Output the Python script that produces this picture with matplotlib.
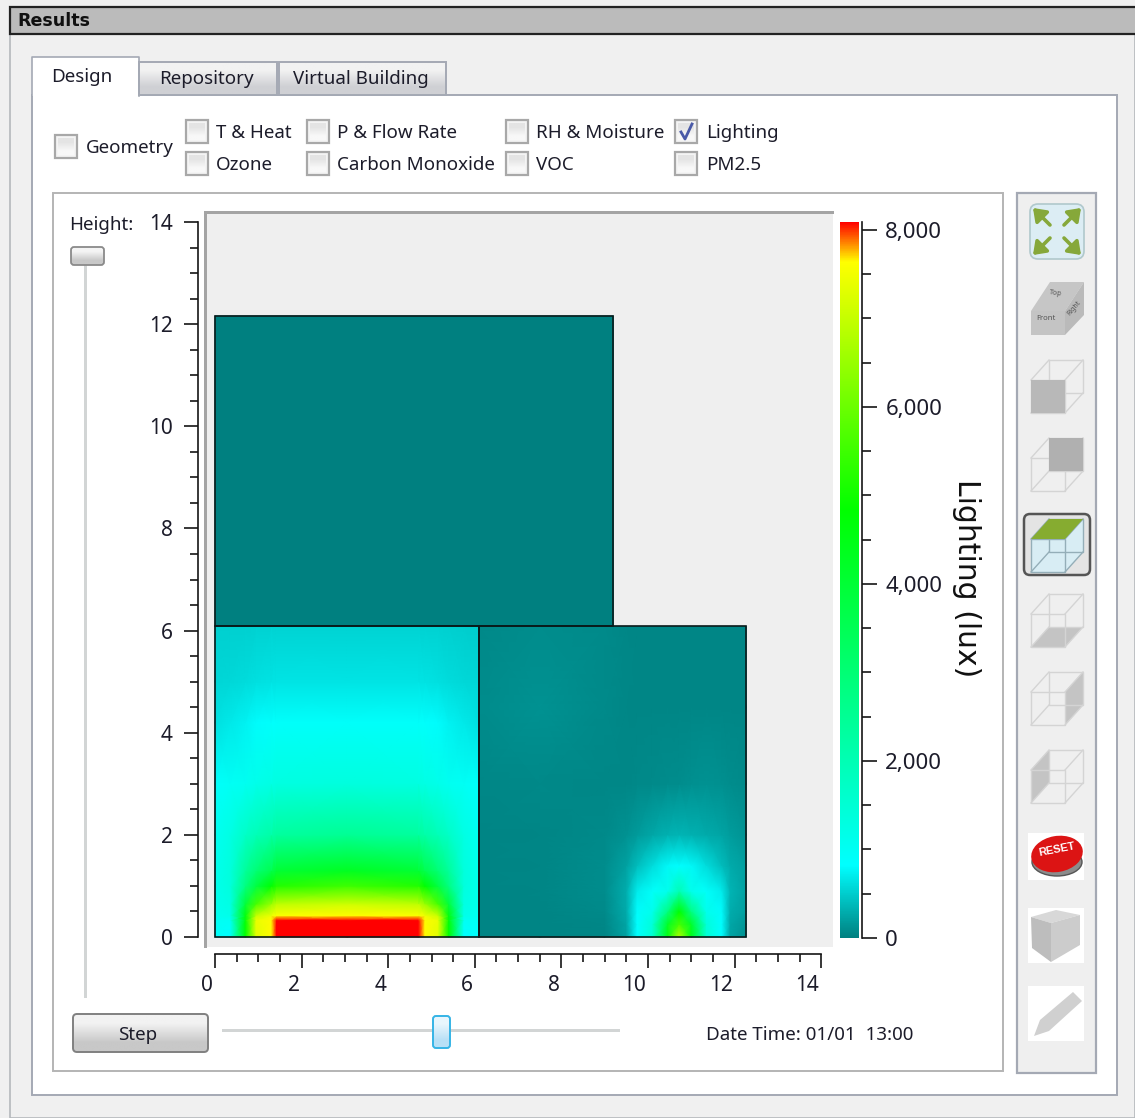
import numpy as np
import matplotlib
matplotlib.use("Agg")
import matplotlib.pyplot as plt
from matplotlib.colors import LinearSegmentedColormap, Normalize, to_rgb
from matplotlib.patches import Rectangle, FancyBboxPatch, Polygon, Ellipse
from matplotlib.ticker import FixedLocator, FixedFormatter, MultipleLocator
from matplotlib.transforms import ScaledTranslation

W, H = 1135, 1118
plt.rcParams['font.family'] = ['Noto Sans', 'DejaVu Sans']

# ---------- data (lux) ----------
VMAX = 8090
room_a_x = [0, .35, .7, .95, 1.3, 1.42, 3.05, 4.7, 4.85, 5.15, 5.4, 5.75, 6.09]
room_a_y = [0, .33, .42, .65, 1.0, 1.3, 2, 3, 4.2, 5, 6.08]
room_a_lux = [
    [900, 820, 4830, 7300, 7640, 8090, 8090, 8090, 7640, 7300, 4830, 820, 850],
    [1000, 1000, 4700, 7400, 7640, 8090, 8090, 8090, 7640, 7400, 4700, 1000, 1000],
    [1050, 1150, 4600, 7000, 7450, 7600, 7640, 7600, 7450, 7000, 4600, 1150, 1050],
    [1100, 1250, 3900, 5600, 6500, 6900, 7080, 6900, 6500, 5600, 3900, 1250, 1100],
    [1100, 1350, 2800, 3800, 4800, 5200, 5500, 5200, 4800, 3800, 2800, 1350, 1100],
    [1100, 1350, 2400, 3000, 3600, 4000, 4300, 4000, 3600, 3000, 2400, 1350, 1100],
    [1050, 1250, 1700, 1950, 2200, 2350, 2500, 2350, 2200, 1950, 1700, 1250, 1050],
    [880, 980, 1050, 1150, 1250, 1300, 1350, 1300, 1250, 1150, 1050, 980, 880],
    [620, 680, 740, 800, 860, 880, 900, 880, 860, 800, 740, 680, 620],
    [560, 570, 600, 620, 640, 650, 650, 650, 640, 620, 600, 570, 560],
    [520, 520, 520, 530, 540, 540, 540, 540, 530, 530, 520, 510, 500],
]
room_b_x = [6.09, 7.5, 9.0, 9.5, 9.75, 10.1, 10.45, 10.72, 11.0, 11.35, 11.7, 11.9, 12.27]
room_b_y = [0, .25, .5, .9, 1.4, 2, 3, 4.5, 6.08]
room_b_lux = [
    [35, 35, 40, 220, 820, 1500, 4500, 6800, 4500, 1500, 820, 230, 110],
    [35, 35, 50, 240, 820, 1400, 4200, 5600, 4200, 1400, 820, 260, 150],
    [35, 35, 70, 280, 800, 1100, 2800, 4830, 2800, 1100, 800, 300, 200],
    [35, 40, 90, 300, 700, 900, 1100, 2000, 1100, 900, 700, 340, 220],
    [35, 40, 90, 220, 400, 600, 780, 820, 780, 600, 400, 280, 200],
    [35, 40, 70, 120, 180, 260, 320, 340, 320, 280, 240, 190, 130],
    [50, 60, 50, 50, 60, 70, 80, 90, 110, 120, 110, 90, 70],
    [85, 120, 70, 55, 45, 40, 40, 40, 40, 40, 40, 40, 40],
    [60, 90, 70, 55, 45, 40, 40, 40, 40, 40, 40, 40, 40],
]
room_c_x = [0, 9.2]
room_c_y = [6.08, 12.16]
room_c_lux = [[0, 0], [0, 0]]

x_major = [0, 2, 4, 6, 8, 10, 12, 14]
y_major = [0, 2, 4, 6, 8, 10, 12, 14]
cbar_major = [0, 2000, 4000, 6000, 8000]
cbar_labels = ['0', '2,000', '4,000', '6,000', '8,000']
cmap_stops = [(0, '#008080'), (820, '#00ffff'), (4830, '#00ff00'), (7640, '#ffff00'), (8090, '#ff0000')]

checks = [
    (55, 135, 'Geometry', 86, 147, False), (186, 120, 'T & Heat', 216, 132, False),
    (186, 152, 'Ozone', 216, 164, False), (307, 120, 'P & Flow Rate', 337, 132, False),
    (307, 152, 'Carbon Monoxide', 337, 164, False), (506, 120, 'RH & Moisture', 536, 132, False),
    (506, 152, 'VOC', 536, 164, False), (675, 120, 'Lighting', 706, 132, True),
    (675, 152, 'PM2.5', 706, 164, False),
]

TXT = '#1c1c2a'
UI = 13.5

fig = plt.figure(figsize=(W / 100, H / 100), dpi=100, facecolor='#f0f0f0')

# ---------- window chrome in pixel coordinates ----------
bg = fig.add_axes([0, 0, 1, 1], zorder=0)
bg.set_xlim(0, W)
bg.set_ylim(H, 0)
bg.axis('off')
bg.set_autoscale_on(False)


def rect(x0, y0, x1, y1, fc='none', ec='none', lw=1.0, z=2):
    p = Rectangle((x0, y0), x1 - x0, y1 - y0, fc=fc, ec=ec, lw=lw, zorder=z)
    bg.add_patch(p)
    return p


def rrect(x0, y0, x1, y1, r, fc='none', ec='none', lw=1.0, z=2):
    p = FancyBboxPatch((x0, y0), x1 - x0, y1 - y0, boxstyle=f'round,pad=0,rounding_size={r}',
                       fc=fc, ec=ec, lw=lw, zorder=z)
    bg.add_patch(p)
    return p


def grad(x0, y0, x1, y1, c0, c1, clip=None, z=2):
    arr = np.array([[to_rgb(c0)], [to_rgb(c1)]])
    im = bg.imshow(arr, extent=(x0, x1, y1, y0), aspect='auto', interpolation='bilinear', zorder=z)
    if clip is not None:
        im.set_clip_path(clip)
    return im


def poly(pts, fc='none', ec='none', lw=1.0, z=3):
    p = Polygon(pts, closed=True, fc=fc, ec=ec, lw=lw, zorder=z)
    bg.add_patch(p)
    return p


def label(x, y, s, ha='left', size=UI, **kw):
    bg.text(x, y + 1, s, ha=ha, va='center', fontsize=size, color=kw.pop('color', TXT), zorder=6, **kw)


# title bar
rect(10, 34, 1135, 1118, fc='#f0f0f0', ec='#b4b8bc', lw=1.2, z=1)
rect(10, 7, 1137, 34, fc='#bbbbbb', ec='#222222', lw=1.6, z=2)
label(17, 20, 'Results', size=12.6, fontweight='bold', color='#101010', family='DejaVu Sans')

# tab pane and tabs
rect(32, 95, 1117, 1095, fc='white', ec='#a4a9b4', lw=1.4, z=2)
for x0, x1, s in [(139, 277, 'Repository'), (279, 446, 'Virtual Building')]:
    rect(x0, 62, x1, 95, fc='none', ec='#a4a9b4', lw=1.4, z=4)
    grad(x0, 62, x1, 95, '#f2f2f2', '#cfd0d4', z=3)
    label((x0 + x1) / 2 - 2, 78, s, ha='center')
rect(32, 57, 139, 96, fc='white', ec='none', z=3)
bg.plot([32, 32, 139, 139], [96, 57, 57, 96], color='#a4a9b4', lw=1.2, zorder=4)
label(82, 76, 'Design', ha='center')

# check boxes
for bx, by, s, tx, ty, on in checks:
    rect(bx, by, bx + 22, by + 23, fc='#f4f4f4', ec='#a8a8a8', lw=1.6, z=3)
    grad(bx + 3, by + 3, bx + 19, by + 20, '#e4e4e4', '#f8f8f8', z=4)
    label(tx, ty, s)
    if on:
        bg.plot([bx + 6, bx + 10, bx + 17], [by + 12, by + 19, by + 4], color='#4a5aa8', lw=2, zorder=5)

# plot panel and tool panel
rect(53, 193, 1003, 1071, fc='white', ec='#b4b4b4', lw=1.4, z=2)
rect(1017, 193, 1096, 1073, fc='#efefef', ec='#a4a9b4', lw=1.6, z=2)
label(69, 224, 'Height:')

# height slider
rect(84, 262, 87, 998, fc='#d2d5d5', z=3)
c = rrect(71, 247, 104, 265, 3, fc='none', ec='#8a8a8a', lw=1.3, z=5)
grad(71, 247, 104, 265, '#f4f4f4', '#c8c8c8', clip=c, z=4)

# step button
c = rrect(73, 1014, 208, 1052, 4, fc='none', ec='#808080', lw=1.4, z=5)
grad(73, 1014, 208, 1052, '#f2f2f2', '#c8c8c8', clip=c, z=4)
label(138, 1034, 'Step', ha='center')

# time slider
rect(222, 1029, 620, 1032, fc='#d2d5d5', z=3)
c = rrect(433, 1016, 450, 1048, 3, fc='none', ec='#35b4e6', lw=1.4, z=5)
grad(433, 1016, 450, 1048, '#e8f6fd', '#b8e0f6', clip=c, z=4)
label(706, 1034, 'Date Time: 01/01  13:00')

# darker edge of the plot area
rect(204, 211, 834, 214, fc='#a4a4a4', z=3)
rect(204, 211, 207, 948, fc='#a4a4a4', z=3)

# ---------- tool bar icons ----------
c = rrect(1030, 204, 1084, 259, 8, fc='#dcedf4', ec='#b0c8cc', lw=1.2, z=3)
for tip, tail in [((1033, 208), (1050, 225)), ((1081, 208), (1064, 225)),
                  ((1033, 255), (1050, 238)), ((1081, 255), (1064, 238))]:
    bg.annotate('', xy=tip, xytext=tail, zorder=5,
                arrowprops=dict(arrowstyle='-|>,head_width=0.4,head_length=0.55', color='#86a83a', lw=2.6,
                                mutation_scale=13, shrinkA=0, shrinkB=0))


def cube(top, face=None, fc='#b8b8b8'):
    fx0, fx1, d, s = 1031, 1065, 18, 33
    t = top + 20
    b = t + s
    front = [(fx0, t), (fx1, t), (fx1, b), (fx0, b)]
    back = [(fx0 + d, top), (fx1 + d, top), (fx1 + d, top + s), (fx0 + d, top + s)]
    edge = '#d4d4d4'
    if face == 'front':
        poly(front, fc=fc, z=4.5)
    if face == 'back':
        poly(back, fc=fc, z=4.5)
    if face == 'top':
        poly([front[0], front[1], back[1], back[0]], fc='#86ac30', z=5)
        poly(front, fc='#d8edf4', z=3)
        poly([front[1], back[1], back[2], front[2]], fc='#d8edf4', z=3)
        edge = '#94aeb8'
    if face == 'bottom':
        poly([front[3], front[2], back[2], back[3]], fc=fc, z=3)
    if face == 'right':
        poly([front[1], back[1], back[2], front[2]], fc=fc, z=3)
    if face == 'left':
        poly([front[0], back[0], back[3], front[3]], fc=fc, z=3)
    poly(front, ec=edge, lw=1, z=4)
    poly(back, ec=edge, lw=1, z=4)
    for a, b2 in zip(front, back):
        bg.plot([a[0], b2[0]], [a[1], b2[1]], color=edge, lw=1, zorder=4)


# labelled cube
poly([(1031, 311), (1065, 311), (1084, 282), (1050, 282)], fc='#c6c6c6', z=3)
poly([(1065, 311), (1084, 282), (1084, 315), (1065, 335)], fc='#bababa', z=3)
c = poly([(1031, 311), (1065, 311), (1065, 335), (1031, 335)], fc='#c4c4c4', z=3)
bg.text(1046, 319, 'Front', fontsize=5.5, ha='center', va='center', color='#555555', zorder=5)
bg.text(1056, 293, 'Top', fontsize=5.2, ha='center', va='center', color='#555555', zorder=5, rotation=-8)
bg.text(1074, 308, 'Right', fontsize=5, ha='center', va='center', color='#555555', zorder=5, rotation=50)

cube(360, 'front')
cube(438, 'back', '#b0b0b0')
c = rrect(1024, 514, 1090, 575, 6, fc='#e4e4e4', ec='#555555', lw=1.8, z=2)
cube(519, 'top')
cube(594, 'bottom', '#c4c4c4')
cube(672, 'right', '#c4c4c4')
cube(750, 'left', '#c4c4c4')

# reset button
rect(1028, 833, 1084, 880, fc='white', z=2)
bg.add_patch(Ellipse((1057, 862), 50, 28, fc='#8c8c8c', ec='#555555', lw=1, zorder=3))
bg.add_patch(Ellipse((1057, 854), 52, 36, angle=-10, fc='#dc1414', zorder=4))
bg.text(1057, 850, 'RESET', fontsize=8, fontweight='bold', color='white', rotation=11,
        ha='center', va='center', zorder=5, family='Liberation Sans')

# glass cube
rect(1028, 908, 1084, 963, fc='white', z=2)
poly([(1031, 917), (1056, 910), (1080, 915), (1051, 923)], fc='#d8d8d8', z=3)
poly([(1031, 917), (1051, 923), (1051, 962), (1032, 948)], fc='#bdbdbd', z=3)
poly([(1051, 923), (1080, 915), (1080, 945), (1051, 962)], fc='#cccccc', z=3)

# pencil
rect(1028, 986, 1084, 1041, fc='white', z=2)
poly([(1040, 1020), (1073, 992), (1082, 1001), (1049, 1031), (1034, 1036)], fc='#d0d0d0', z=3)

# ---------- chart ----------
PX_X = 43.3
PX_Y = 51.07
X0, Y0 = 215, 937
left, right, top, bottom = 207, 833, 214, 947
ax = fig.add_axes([left / W, 1 - bottom / H, (right - left) / W, (bottom - top) / H], zorder=2)
ax.set_facecolor('#efefef')
ax.set_xlim((left - X0) / PX_X, (right - X0) / PX_X)
ax.set_ylim((Y0 - bottom) / PX_Y, (Y0 - top) / PX_Y)

pos = [v / VMAX for v, _ in cmap_stops]
cmap = LinearSegmentedColormap.from_list('lux', list(zip(pos, [c for _, c in cmap_stops])), N=1024)
norm = Normalize(0, VMAX)

mesh = None
for xs, ys, lux in [(room_c_x, room_c_y, room_c_lux), (room_a_x, room_a_y, room_a_lux), (room_b_x, room_b_y, room_b_lux)]:
    X, Y = np.meshgrid(xs, ys)
    mesh = ax.pcolormesh(X, Y, np.array(lux, dtype=float), shading='gouraud', cmap=cmap, norm=norm, zorder=2)
    ax.add_patch(Rectangle((xs[0], ys[0]), xs[-1] - xs[0], ys[-1] - ys[0], fc='none', ec='#0a1a1a', lw=1.2, zorder=3))

for s in ['top', 'right']:
    ax.spines[s].set_visible(False)
ax.spines['left'].set_position(('outward', 9 * .72))
ax.spines['bottom'].set_position(('outward', 7 * .72))
ax.spines['left'].set_bounds(0, 14)
ax.spines['bottom'].set_bounds(0, 14)
for s in ['left', 'bottom']:
    ax.spines[s].set_linewidth(1.2)
    ax.spines[s].set_color('#151515')

ax.xaxis.set_major_locator(FixedLocator(x_major))
ax.yaxis.set_major_locator(FixedLocator(y_major))
ax.xaxis.set_major_formatter(FixedFormatter([str(v) for v in x_major]))
ax.yaxis.set_major_formatter(FixedFormatter([str(v) for v in y_major]))
ax.xaxis.set_minor_locator(MultipleLocator(.5))
ax.yaxis.set_minor_locator(MultipleLocator(.5))
ax.tick_params(which='major', length=14 * .72, width=1.2, color='#151515', labelsize=15, labelcolor=TXT)
ax.tick_params(which='minor', length=8 * .72, width=1.2, color='#151515')
ax.tick_params(axis='x', which='major', pad=5)
ax.tick_params(axis='y', which='major', pad=8)
for lab in ax.get_xticklabels():
    lab.set_ha('right')
    lab.set_transform(lab.get_transform() + ScaledTranslation(-2 / 100, 0, fig.dpi_scale_trans))

# ---------- colour bar ----------
cx0, cx1, cy0, cy1 = 840, 859, 222, 938
cax = fig.add_axes([cx0 / W, 1 - cy1 / H, (cx1 - cx0) / W, (cy1 - cy0) / H], zorder=2)
cb = fig.colorbar(mesh, cax=cax)
cb.outline.set_visible(False)
cax.spines['right'].set_visible(True)
cax.spines['right'].set_position(('outward', 3 * .72))
cax.spines['right'].set_linewidth(1.2)
cax.spines['right'].set_color('#151515')
cb.set_ticks(cbar_major, labels=cbar_labels)
cb.ax.yaxis.set_minor_locator(MultipleLocator(500))
cax.tick_params(which='major', length=15 * .72, width=1.2, color='#151515', labelsize=16, labelcolor=TXT, pad=6)
cax.tick_params(which='minor', length=9 * .72, width=1.2, color='#151515')
bg.text(966, 578, 'Lighting (lux)', rotation=270, ha='center', va='center', fontsize=21.5,
        color='#101010', family='DejaVu Sans', zorder=6)

fig.savefig('out.png', dpi=100, facecolor=fig.get_facecolor())
